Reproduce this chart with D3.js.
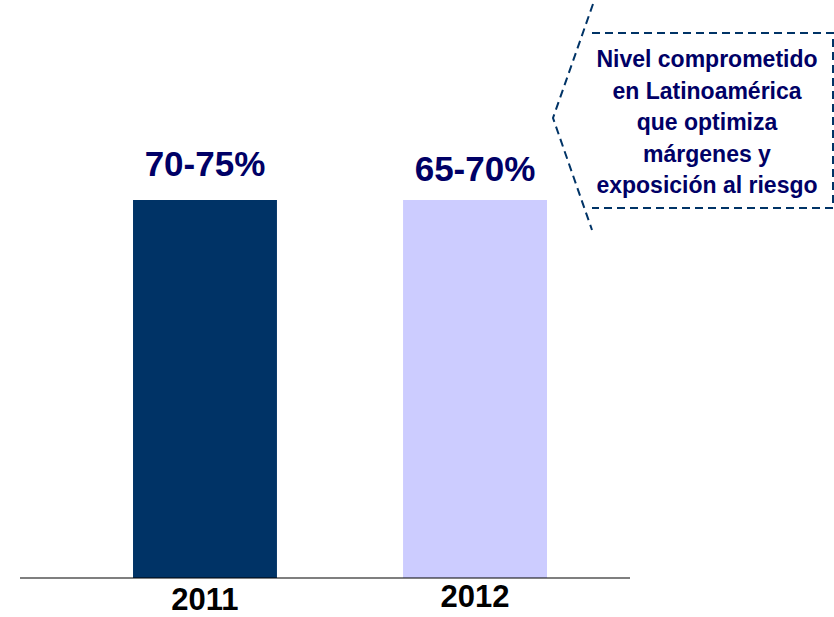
<!DOCTYPE html>
<html>
<head>
<meta charset="utf-8">
<script src="https://cdn.jsdelivr.net/npm/d3@7"></script>
<style>
  body { margin: 0; background: #fff; }
  text { font-family: "Liberation Sans", Arial, sans-serif; font-weight: bold; }
</style>
</head>
<body>
<div id="chart"></div>
<script>
var width = 834;
var height = 617;

var years = ["2011", "2012"];
var rangeLabels = ["70-75%", "65-70%"];
var barValues = [100, 100];   // both bars drawn at the same height in the original
var barColors = ["#003366", "#CCCCFF"];
var calloutLines = ["Nivel comprometido", "en Latinoamérica", "que optimiza", "márgenes y", "exposición al riesgo"];

var svg = d3.select("#chart")
  .append("svg")
  .attr("width", width)
  .attr("height", height);

var xScale = d3.scaleBand()
  .domain(years)
  .range([35, 645])
  .paddingInner(0.467)
  .paddingOuter(0.363);

var yScale = d3.scaleLinear()
  .domain([0, 100])
  .range([578, 200]);

var data = years.map(function(y, i) {
  return {year: y, label: rangeLabels[i], value: barValues[i], color: barColors[i]};
});

svg.selectAll("rect.bar")
  .data(data)
  .enter()
  .append("rect")
    .attr("class", "bar")
    .attr("x", function(d) { return xScale(d.year); })
    .attr("y", function(d) { return yScale(d.value); })
    .attr("width", xScale.bandwidth())
    .attr("height", function(d) { return yScale(0) - yScale(d.value); })
    .attr("fill", function(d) { return d.color; });

// baseline
svg.append("line")
  .attr("x1", 20).attr("x2", 630)
  .attr("y1", yScale(0)).attr("y2", yScale(0))
  .attr("stroke", "#000")
  .attr("stroke-width", 1.2);

// value labels (second one sits a little lower in the original)
svg.selectAll("text.val")
  .data(data)
  .enter()
  .append("text")
    .attr("class", "val")
    .attr("x", function(d) { return xScale(d.year) + xScale.bandwidth() / 2; })
    .attr("y", function(d, i) { return yScale(d.value) - (i == 0 ? 24 : 19); })
    .attr("text-anchor", "middle")
    .style("font-size", "35px")
    .attr("fill", "#000066")
    .text(function(d) { return d.label; });

// year labels
svg.selectAll("text.year")
  .data(data)
  .enter()
  .append("text")
    .attr("class", "year")
    .attr("x", function(d) { return xScale(d.year) + xScale.bandwidth() / 2; })
    .attr("y", function(d, i) { return yScale(0) + (i == 0 ? 32 : 29); })
    .attr("text-anchor", "middle")
    .style("font-size", "31px")
    .attr("fill", "#000")
    .text(function(d) { return d.year; });

// dashed callout
var callout = svg.append("g");
callout.append("path")
  .attr("d", "M592,33 L833,33 L833,208 L592,208")
  .attr("fill", "none")
  .attr("stroke", "#003366")
  .attr("stroke-width", 2)
  .attr("stroke-dasharray", "8,5");
callout.append("path")
  .attr("d", "M593,4 L553,118 L592,230")
  .attr("fill", "none")
  .attr("stroke", "#003366")
  .attr("stroke-width", 2)
  .attr("stroke-dasharray", "8,5");

callout.selectAll("text")
  .data(calloutLines)
  .enter()
  .append("text")
    .attr("x", 707)
    .attr("y", function(d, i) { return 67 + i * 31.5; })
    .attr("text-anchor", "middle")
    .style("font-size", "23px")
    .attr("fill", "#000066")
    .text(function(d) { return d; });
</script>
</body>
</html>
